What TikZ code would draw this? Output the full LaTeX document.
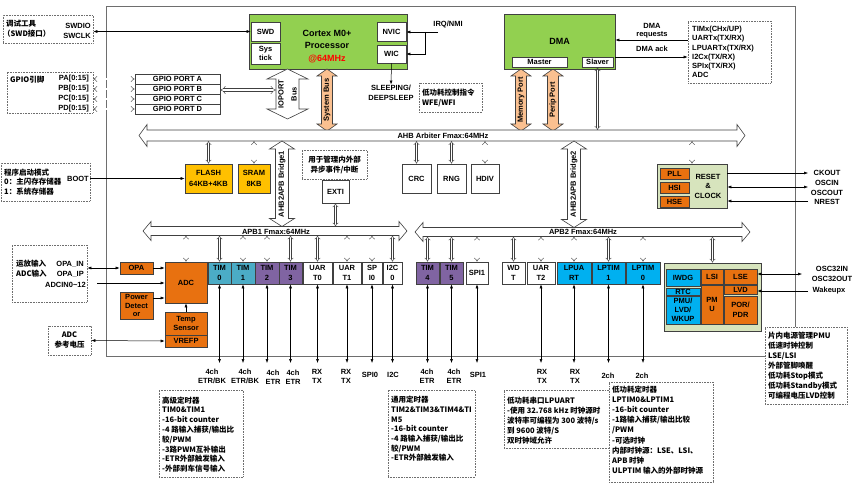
\documentclass[tikz,border=0pt]{standalone}
\usepackage{fontspec}
\setmainfont{Liberation Sans}
\newfontfamily\cjk{Noto Sans CJK SC}
\usetikzlibrary{arrows.meta}
\definecolor{bd}{RGB}{64,64,64}
\definecolor{gn}{RGB}{146,208,80}
\definecolor{og}{RGB}{232,113,16}
\definecolor{yl}{RGB}{255,192,0}
\definecolor{pc}{RGB}{250,192,144}
\definecolor{cy}{RGB}{75,172,198}
\definecolor{pu}{RGB}{128,100,162}
\definecolor{lb}{RGB}{0,176,240}
\definecolor{lg}{RGB}{215,228,189}
\definecolor{mr}{RGB}{110,110,110}
% vertical double block arrow: xc, ytop, ybot, shaft half, head half, head length, fill
\newcommand\vbus[7]{\draw[bus,fill=#7] (#1,#2) -- ({#1+#5},{#2+#6}) -- ({#1+#4},{#2+#6}) -- ({#1+#4},{#3-#6}) -- ({#1+#5},{#3-#6}) -- (#1,#3) -- ({#1-#5},{#3-#6}) -- ({#1-#4},{#3-#6}) -- ({#1-#4},{#2+#6}) -- ({#1-#5},{#2+#6}) -- cycle;}
% horizontal double block arrow: xa, xb, yc, shaft half, head half, head length, fill
\newcommand\hbus[7]{\draw[bus,fill=#7] (#1,#3) -- ({#1+#6},{#3-#5}) -- ({#1+#6},{#3-#4}) -- ({#2-#6},{#3-#4}) -- ({#2-#6},{#3-#5}) -- (#2,#3) -- ({#2-#6},{#3+#5}) -- ({#2-#6},{#3+#4}) -- ({#1+#6},{#3+#4}) -- ({#1+#6},{#3+#5}) -- cycle;}
\tikzset{
  bus/.style={draw=bd, line width=0.6pt},
  box/.style={draw=bd, line width=0.6pt, inner sep=0pt, align=center, font=\fontsize{7.5}{9.5}\selectfont\bfseries},
  sz/.style 2 args={minimum width=#1pt, minimum height=#2pt},
  note/.style={draw=mr, densely dotted, line width=0.6pt, fill=white},
  cj/.style={font=\cjk\fontsize{7.5}{10}\selectfont\bfseries, inner sep=0pt},
  txt/.style={inner sep=0pt, align=center},
  hol/.style={draw=bd, double=white, double distance=1.6pt, line width=0.4pt, {Implies}-{Implies}},
  pin/.style={draw=black, line width=0.5pt, {Latex[length=4pt,width=3pt]}-{Latex[length=4pt,width=3pt]}},
  arr/.style={draw=black, line width=0.5pt, -{Latex[length=4pt,width=3pt]}},
}
\begin{document}
\begin{tikzpicture}[x=1pt,y=-1pt, font=\fontsize{7.5}{9.5}\selectfont\bfseries]
\useasboundingbox (0,0) rectangle (859,484);
\draw[mr, line width=0.9pt] (106,6) rectangle (795,356);

% ---------- debug ----------
\node[note, sz={90}{28}] (dbg) at (48,29) {};
\node[cj, anchor=west] at (6,24) {调试工具};
\node[cj, anchor=west] at (3,34) {（SWD接口）};
\node[txt, anchor=east, align=right] at (91,31) {SWDIO\\SWCLK};

% ---------- Cortex ----------
\node[box, fill=gn, sz={158}{55}] (cpu) at (328,41.5) {};
\node[txt, font=\fontsize{9}{12.5}\selectfont\bfseries] at (327,46.5) {Cortex M0+\\Processor\\\textcolor{red}{@64MHz}};
\node[box, fill=white, sz={29}{19}] (swd) at (265.5,31.5) {SWD};
\node[box, fill=white, sz={29}{21}] (systick) at (265.5,53.5) {Sys\\tick};
\node[box, fill=white, sz={29}{19}] (nvic) at (391.5,31.5) {NVIC};
\node[box, fill=white, sz={29}{18}] (wic) at (391.5,54) {WIC};
\draw[pin] (dbg.east |- swd) -- (swd.west);

\node[txt] (irq) at (448,25) {IRQ/NMI};
\coordinate (irqend) at (438,32);
\coordinate (jn) at (425,32);
\draw[arr] (irqend) -- (nvic.east |- irqend);
\draw[arr] (jn) |- (wic.east);
\node[txt, font=\fontsize{7.5}{10}\selectfont\bfseries] (sleep) at (391,92.5) {SLEEPING/\\DEEPSLEEP};
\draw[arr] (wic.south) -- (sleep.north);
\node[note, sz={63}{29}] (lpn) at (450.5,97.5) {};
\node[cj, anchor=west, align=left] at (422,97.5) {低功耗控制指令\\WFE/WFI};

% ---------- GPIO ----------
\node[note, sz={86}{41}] (gpio) at (50,92.5) {};
\node[cj, anchor=west] at (10,80) {GPIO引脚};
\node[txt, anchor=east] at (89,79) {PA[0:15]};
\node[txt, anchor=east] at (89,89) {PB[0:15]};
\node[txt, anchor=east] at (89,99) {PC[0:15]};
\node[txt, anchor=east] at (89,109) {PD[0:15]};
\node[box, sz={85}{10}] (pa) at (177.5,79) {GPIO PORT A};
\node[box, sz={85}{10}] (pb) at (177.5,89) {GPIO PORT B};
\node[box, sz={85}{10}] (pc) at (177.5,99) {GPIO PORT C};
\node[box, sz={85}{10}] (pd) at (177.5,109) {GPIO PORT D};
\draw[hol] (gpio.east |- pa) -- (pa.west);
\draw[hol] (gpio.east |- pb) -- (pb.west);
\draw[hol] (gpio.east |- pc) -- (pc.west);
\draw[hol] (gpio.east |- pd) -- (pd.west);
\vbus{287.5}{69}{119}{11.5}{20.5}{10}{white}
\node[txt, rotate=90, font=\fontsize{7.5}{13}\selectfont\bfseries] (iop) at (287.5,94) {IOPORT\\Bus};
\coordinate (iol) at (276,90);
\draw[hol, double distance=2.5pt] ([yshift=-1pt]pb.east) -- (iol);

% ---------- peach buses ----------
\vbus{327}{69}{131}{5.5}{10}{7}{pc}
\node[txt, rotate=90] at (327,100) {System Bus};
\vbus{521}{69}{131}{5.5}{10}{7}{pc}
\node[txt, rotate=90] at (521,100) {Memory Port};
\vbus{553}{69}{131}{5.5}{10}{7}{pc}
\node[txt, rotate=90] at (553,100) {Perip Port};

% ---------- DMA ----------
\node[box, fill=gn, sz={111}{55}, font=\fontsize{9}{11}\selectfont\bfseries] (dma) at (559.5,41.5) {DMA};
\node[box, fill=white, sz={55}{10}] (master) at (539.5,62) {Master};
\node[box, fill=white, sz={31}{10}] (slaver) at (597.5,62) {Slaver};
\node[note, sz={83}{62}] (dlist) at (729.5,52) {};
\node[txt, anchor=west, align=left, font=\fontsize{7.5}{9.2}\selectfont\bfseries] at (692,52) {TIMx(CHx/UP)\\UARTx(TX/RX)\\LPUARTx(TX/RX)\\I2Cx(TX/RX)\\SPIx(TX/RX)\\ADC};
\coordinate (rq) at (0,40);
\coordinate (ak) at (0,57);
\draw[arr] (dlist.west |- rq) -- (dma.east |- rq);
\draw[arr] (dma.east |- ak) -- (dlist.west |- ak);
\node[txt, font=\fontsize{7.5}{8}\selectfont\bfseries] at (652,31) {DMA\\requests};
\node[txt] at (652,49) {DMA ack};

% ---------- AHB ----------
\hbus{139}{745}{135.5}{5.5}{11}{8}{white}
\node[txt] at (443,135.5) {AHB Arbiter Fmax:64MHz};
\coordinate (ahbT) at (0,130);
\coordinate (ahbB) at (0,141);
\draw[hol] (slaver.south) -- (slaver.south |- ahbT);

\vbus{282}{141}{226.5}{6.5}{12.5}{8}{white}
\node[txt, rotate=90] at (282,184) {AHB2APB Bridge1};
\vbus{574}{141}{227.5}{6.5}{12.5}{8}{white}
\node[txt, rotate=90] at (574,184) {AHB2APB Bridge2};

\hbus{143}{407}{231}{4.5}{9.5}{8}{white}
\node[txt] at (276,231.5) {APB1 Fmax:64MHz};
\hbus{415}{750}{232}{4.5}{9.5}{8}{white}
\node[txt] at (583,232) {APB2 Fmax:64MHz};
\coordinate (apbT) at (0,226.5);
\coordinate (apbB) at (0,235.5);
\coordinate (apb2B) at (0,236.5);

% ---------- memories ----------
\node[box, fill=yl, sz={47}{29}, font=\fontsize{7.5}{10.5}\selectfont\bfseries] (flash) at (208.5,178.5) {FLASH\\64KB+4KB};
\node[box, fill=yl, sz={32}{29}, font=\fontsize{7.5}{10.5}\selectfont\bfseries] (sram) at (254,178.5) {SRAM\\8KB};
\draw[hol] (flash.north |- ahbB) -- (flash.north);
\draw[hol] (sram.north |- ahbB) -- (sram.north);

\node[note, sz={89}{38}] (boot) at (45.5,182) {};
\node[cj, anchor=west, align=left, font=\cjk\fontsize{7.5}{9.6}\selectfont\bfseries] at (4,182) {程序启动模式\\0：主闪存存储器\\1：系统存储器};
\node[txt, anchor=east] (bootl) at (89,179) {BOOT};
\draw[arr] (boot.east |- flash) -- (flash.west);

% ---------- EXTI, CRC ... ----------
\node[note, sz={65}{29}] (extin) at (334.5,164.5) {};
\node[cj, align=center] at (334.5,164.5) {用于管理内外部\\异步事件/中断};
\node[box, sz={27}{23}] (exti) at (335.5,191.5) {EXTI};
\draw[hol] (exti.south) -- (exti.south |- apbT);
\node[box, sz={29}{29}] (crc) at (416.5,178.5) {CRC};
\node[box, sz={29}{29}] (rng) at (451.5,178.5) {RNG};
\node[box, sz={28}{29}] (hdiv) at (485,178.5) {HDIV};
\draw[hol] (crc.north |- ahbB) -- (crc.north);
\draw[hol] (rng.north |- ahbB) -- (rng.north);
\draw[hol] (hdiv.north |- ahbB) -- (hdiv.north);

% ---------- RESET & CLOCK ----------
\node[box, fill=lg, sz={70}{44}] (rst) at (692,186) {};
\node[txt] at (708,186) {RESET\\\&\\CLOCK};
\node[box, fill=og, sz={29}{11}] (pll) at (674.5,173.5) {PLL};
\node[box, fill=og, sz={29}{11}] (hsi) at (674.5,187.5) {HSI};
\node[box, fill=og, sz={29}{11}] (hse) at (674.5,201.5) {HSE};
\draw[hol] (rst.north |- ahbB) -- (rst.north);
\node[txt] (ckout) at (827,173) {CKOUT};
\node[txt, font=\fontsize{7.5}{10}\selectfont\bfseries] (osc) at (827,188) {OSCIN\\OSCOUT};
\node[txt] (nrest) at (827,202) {NREST};
\coordinate (cko) at (808,173);
\coordinate (osco) at (808,187);
\coordinate (nrs) at (808,201);
\draw[arr] (rst.east |- cko) -- (cko);
\draw[pin] (rst.east |- osco) -- (osco);
\draw[arr] (nrs) -- (rst.east |- nrs);

% ---------- analog ----------
\node[note, sz={75}{57}] (ana) at (49.5,273.5) {};
\node[cj, anchor=west] at (16,264) {运放输入};
\node[txt, anchor=east] at (84,264) {OPA\_IN};
\node[cj, anchor=west] at (16,274) {ADC输入};
\node[txt, anchor=east] at (84,274) {OPA\_IP};
\node[txt, anchor=east] at (86,285) {ADCIN0\textasciitilde12};
\node[box, fill=og, sz={33}{12}] (opa) at (136.5,268) {OPA};
\node[box, fill=og, sz={42}{41}] (adc) at (186,282.5) {ADC};
\node[box, fill=og, sz={33}{27}, font=\fontsize{7.5}{8.8}\selectfont\bfseries] (pdet) at (136.5,305.5) {Power\\Detect\\or};
\node[box, fill=og, sz={42}{23}] (temp) at (186,323.5) {Temp\\Sensor};
\node[box, fill=og, sz={42}{12}] (vrefp) at (186,341) {VREFP};
\node[note, sz={43}{29}] (vref) at (69.5,340.5) {};
\node[cj, align=center] at (69.5,340.5) {ADC\\参考电压};
\draw[pin] (ana.east |- opa) -- (opa.west);
\draw[arr] (opa.east) -- (adc.west |- opa);
\coordinate (adcin) at (97,283);
\draw[arr] (adcin) -- (adc.west |- adcin);
\coordinate (pdo) at ([yshift=7.5pt]pdet.east);
\draw[arr] (pdo) -- (adc.west |- pdo);
\draw[arr] (temp.north) -- (adc.south);
\draw[pin] (vref.east) -- (vrefp.west);
\draw[hol] (adc.north |- apbB) -- (adc.north);

% ---------- APB peripherals ----------
\node[box, fill=cy, sz={23}{22}] (t0) at (219.5,273) {TIM\\0};
\node[box, fill=cy, sz={24}{22}] (t1) at (243,273) {TIM\\1};
\node[box, fill=pu, sz={24}{22}] (t2) at (267,273) {TIM\\2};
\node[box, fill=pu, sz={23}{22}] (t3) at (290.5,273) {TIM\\3};
\node[box, sz={29}{22}] (u0) at (317.5,273) {UAR\\T0};
\node[box, sz={28}{22}] (u1) at (347,273) {UAR\\T1};
\node[box, sz={20}{22}] (s0) at (372,273) {SP\\I0};
\node[box, sz={19}{22}] (i2c) at (392.5,273) {I2C\\0};
\node[box, fill=pu, sz={23}{22}] (t4) at (427.5,273) {TIM\\4};
\node[box, fill=pu, sz={23}{22}] (t5) at (451.5,273) {TIM\\5};
\node[box, sz={22}{22}] (s1) at (477,273) {SPI1};
\node[box, sz={23}{22}] (wdt) at (513.5,273) {WD\\T};
\node[box, sz={28}{22}] (u2) at (541,273) {UAR\\T2};
\node[box, fill=lb, sz={34}{22}] (lpu) at (574,273) {LPUA\\RT};
\node[box, fill=lb, sz={33}{22}] (lpt1) at (608.5,273) {LPTIM\\1};
\node[box, fill=lb, sz={34}{22}] (lpt0) at (643,273) {LPTIM\\0};
\foreach \n in {t0,t1,t2,t3,u0,u1,s0,i2c} {\draw[hol] (\n.north |- apbB) -- (\n.north);}
\foreach \n in {t4,t5,s1,wdt,u2,lpu,lpt1,lpt0} {\draw[hol] (\n.north |- apb2B) -- (\n.north);}
\coordinate (pinY) at (0,363);
\foreach \n in {t0,t1,t2,t3,u0,u1,s0,i2c,t4,t5,s1,u2,lpu,lpt1,lpt0} {\draw[pin] (\n.south) -- (\n.south |- pinY);}
\begin{scope}[every node/.style={txt, font=\fontsize{7.5}{9}\selectfont\bfseries}]
\node (l0) at (212,376) {4ch\\ETR/BK};
\node (l1) at (245,376) {4ch\\ETR/BK};
\node (l2) at (273,377) {4ch\\ETR};
\node (l3) at (293,377) {4ch\\ETR};
\node (l4) at (317,376.5) {RX\\TX};
\node (l5) at (346,376.5) {RX\\TX};
\node (l6) at (370,375) {SPI0};
\node (l7) at (393,375) {I2C};
\node (l8) at (427,376.5) {4ch\\ETR};
\node (l9) at (454,376.5) {4ch\\ETR};
\node (l10) at (478,375) {SPI1};
\node (l11) at (542,376) {RX\\TX};
\node (l12) at (575,376) {RX\\TX};
\node (l13) at (608,376) {2ch};
\node (l14) at (642,376) {2ch};
\end{scope}

% ---------- PMU block ----------
\node[box, fill=lg, sz={97}{68}] (pmuc) at (712.5,297) {};
\node[box, fill=lb, sz={34}{17}] (iwdg) at (683,277.5) {IWDG};
\node[box, fill=lb, sz={34}{7}] (rtc) at (683,291.5) {RTC};
\node[box, fill=lb, sz={34}{28}, font=\fontsize{7.5}{9.3}\selectfont\bfseries] (pmul) at (683,310) {PMU/\\LVD/\\WKUP};
\node[box, fill=og, sz={22}{15}] (lsi) at (712,276.5) {LSI};
\node[box, fill=og, sz={33}{15}] (lse) at (740.5,276.5) {LSE};
\node[box, fill=og, sz={22}{39}] (pmu) at (712,304.5) {PM\\U};
\node[box, fill=og, sz={33}{9}] (lvd) at (740.5,289.5) {LVD};
\node[box, fill=og, sz={33}{28}] (por) at (740.5,310) {POR/\\PDR};
\draw[hol] (pmuc.north |- apb2B) -- (pmuc.north);
\coordinate (o32) at (802,274);
\draw[pin] (lse.east |- o32) -- (o32);
\node[txt, font=\fontsize{7.5}{10}\selectfont\bfseries] (osc32) at (832,274) {OSC32IN\\OSC32OUT};
\coordinate (wk) at (808,291);
\draw[arr] (wk) -- (lvd.east |- wk);
\node[txt] (wkx) at (829,291) {Wakeupx};

% ---------- notes ----------
\node[note, sz={82}{77}] (pmun) at (806,365.5) {};
\node[cj, anchor=west, align=left] at (768,366) {片内电源管理PMU\\低速时钟控制\\LSE/LSI\\外部管脚唤醒\\低功耗Stop模式\\低功耗Standby模式\\可编程电压LVD控制};
\node[note, sz={84}{87}] (htn) at (201,433.5) {};
\node[cj, anchor=west, align=left, font=\cjk\fontsize{7.5}{9.8}\selectfont\bfseries] at (162,434.5) {高级定时器\\TIM0\&TIM1\\-16-bit counter\\-4 路输入捕获/输出比\\较/PWM\\-3路PWM互补输出\\-ETR外部触发输入\\-外部刹车信号输入};
\node[note, sz={87}{87}] (gtn) at (431.5,433.5) {};
\node[cj, anchor=west, align=left, font=\cjk\fontsize{7.5}{9.7}\selectfont\bfseries] at (391,429) {通用定时器\\TIM2\&TIM3\&TIM4\&TI\\M5\\-16-bit counter\\-4 路输入捕获/输出比\\较/PWM\\-ETR外部触发输入};
\node[note, sz={105}{58}] (lpun) at (556.5,419) {};
\node[cj, anchor=west, align=left] at (507,421) {低功耗串口LPUART\\-使用 32.768 kHz 时钟源时\\波特率可编程为 300 波特/s\\到 9600 波特/S\\双时钟域允许};
\node[note, sz={104}{100}] (lptn) at (661,432) {};
\node[cj, anchor=west, align=left, font=\cjk\fontsize{7.5}{10.2}\selectfont\bfseries] at (612,430) {低功耗定时器\\LPTIM0\&LPTIM1\\-16-bit counter\\-1路输入捕获/输出比较\\/PWM\\-可选时钟\\内部时钟源：LSE、LSI、\\APB 时钟\\ULPTIM 输入的外部时钟源};
\end{tikzpicture}
\end{document}
